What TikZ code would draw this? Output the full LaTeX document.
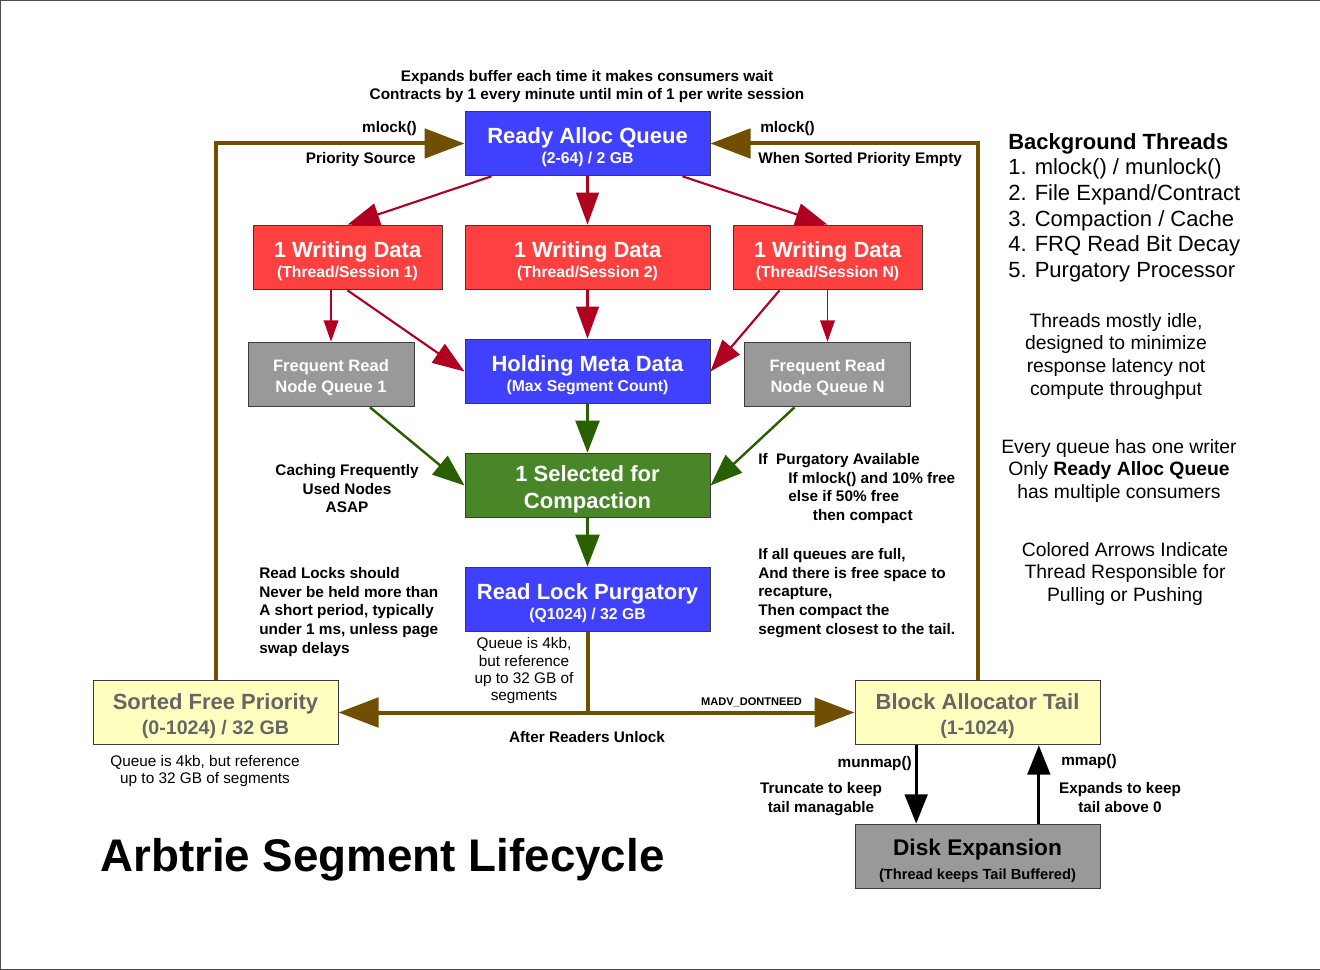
\documentclass[tikz,border=0pt]{standalone}
\usepackage{fontspec}
\setmainfont{Liberation Sans}
\usetikzlibrary{arrows.meta,positioning}

\definecolor{qblue}{RGB}{64,64,255}
\definecolor{qred}{RGB}{255,64,64}
\definecolor{qgray}{RGB}{153,153,153}
\definecolor{qgreen}{RGB}{72,134,40}
\definecolor{qyellow}{RGB}{255,255,192}
\definecolor{qtext}{RGB}{102,102,102}
\definecolor{qedge}{RGB}{60,60,60}
\definecolor{abrown}{RGB}{112,80,0}
\definecolor{ared}{RGB}{176,0,32}
\definecolor{agreen}{RGB}{40,96,0}

\newcommand\boxtitle[1]{{\fontsize{16.5}{17}\selectfont\rule{0pt}{17.5pt}#1}}

\begin{document}
\begin{tikzpicture}[x=0.75pt,y=-0.75pt,node distance=85.5pt,
                    box/.style={draw=qedge,line width=0.75pt,align=center,inner sep=0pt,
                                minimum width=183.75pt,minimum height=48.5pt,text=white,
                                font=\bfseries\fontsize{11.8}{15.6}\selectfont},
                    fbox/.style={box,fill=qgray,minimum width=124.5pt,
                                 font=\bfseries\fontsize{12.4}{15.75}\selectfont},
                    ybox/.style={box,fill=qyellow,text=qtext,
                                 font=\bfseries\fontsize{14.7}{18.75}\selectfont},
                    barrow/.style={draw=abrown,line width=3pt,-{Triangle[length=30pt,width=22pt]}},
                    rarrow/.style={draw=ared,line width=1.6pt,-{Triangle[length=24pt,width=17pt]}},
                    rthin/.style={draw=ared,line width=1pt,-{Triangle[length=16pt,width=11pt]}},
                    garrow/.style={draw=agreen,line width=1.8pt,-{Triangle[length=24pt,width=18pt]}},
                    karrow/.style={draw=black,line width=2.2pt,-{Triangle[length=22pt,width=17pt]}}]
  \tikzstyle{lbl}=[inner sep=0pt,align=left,font=\bfseries\fontsize{11.5}{13.9}\selectfont]
  \tikzstyle{note}=[inner sep=0pt,align=center,font=\fontsize{11.5}{13}\selectfont]
  \tikzstyle{side}=[inner sep=0pt,align=center,font=\fontsize{14.5}{17}\selectfont]

  \useasboundingbox (0,0) rectangle (1320,970);
  \draw[gray!60!black,line width=0.75pt] (1320,0.5) -- (0.5,0.5) -- (0.5,969.5) -- (1320,969.5);

  % queues
  \node[box,fill=qblue]  (RAQ) at (587.5,143.5) {\boxtitle{Ready Alloc Queue}\\(2-64) / 2 GB};
  \node[box,fill=qred]   (W2) [below of=RAQ] {\boxtitle{1 Writing Data}\\(Thread/Session 2)};
  \node[box,fill=qred,minimum width=141.75pt] (W1) [left of=W2,node distance=180pt]
        {\boxtitle{1 Writing Data}\\(Thread/Session 1)};
  \node[box,fill=qred,minimum width=141.75pt] (WN) [right of=W2,node distance=180pt]
        {\boxtitle{1 Writing Data}\\(Thread/Session N)};
  \node[box,fill=qblue]  (HMD) [below of=W2] {\boxtitle{Holding Meta Data}\\(Max Segment Count)};
  \node[fbox]            (F1) at (331,374.5) {\rule{0pt}{13pt}Frequent Read\\Node Queue 1};
  \node[fbox]            (FN) at (827.5,374.5) {\rule{0pt}{13pt}Frequent Read\\Node Queue N};
  \node[box,fill=qgreen,font=\bfseries\fontsize{16.5}{20}\selectfont] (SC) [below of=HMD]
        {\rule{0pt}{18pt}1 Selected for\\Compaction};
  \node[box,fill=qblue]  (RLP) [below of=SC] {\boxtitle{Read Lock Purgatory}\\(Q1024) / 32 GB};
  \node[ybox]            (SFP) at (215.5,712.5) {\boxtitle{Sorted Free Priority}\\(0-1024) / 32 GB};
  \node[ybox]            (BAT) at (977.5,712.5) {\boxtitle{Block Allocator Tail}\\(1-1024)};
  \node[box,fill=qgray,text=black,font=\bfseries\fontsize{11}{17.5}\selectfont] (DE) at (977.5,856.5)
        {{\fontsize{17}{18}\selectfont\rule{0pt}{19pt}Disk Expansion}\\(Thread keeps Tail Buffered)};

  % writer threads
  \path ([xshift=20.25pt]RAQ.south west) edge[rarrow] (W1.north)
        (RAQ) edge[rarrow] (W2)
        ([xshift=-21pt]RAQ.south east) edge[rarrow] (WN.north)
        (W1.south -| F1) edge[rthin] (F1.north)
        (W1.south) edge[rarrow] (HMD.west)
        (W2) edge[rarrow] (HMD)
        ([xshift=35.25pt]WN.south west) edge[rarrow] (HMD.east)
        (WN.south -| FN) edge[rthin] (FN.north);

  % compaction thread
  \path ([xshift=29.25pt]F1.south) edge[garrow] (SC.west)
        (HMD) edge[garrow] (SC)
        ([xshift=-24.75pt]FN.south) edge[garrow] (SC.east)
        (SC) edge[garrow] (RLP);

  % background recycling
  \draw[barrow] (SFP.north) |- (RAQ.west);
  \draw[barrow] (BAT.north) |- (RAQ.east);
  \draw[barrow] (RLP.south) |- (SFP.east);
  \draw[barrow] (RLP.south) |- (BAT.west);
  \draw[karrow] ([xshift=-46pt]BAT.south) -- ([xshift=-46pt]DE.north);
  \draw[karrow] ([xshift=46pt]DE.north) -- ([xshift=46pt]BAT.south);

  % labels
  \node[lbl,align=center,font=\bfseries\fontsize{11.5}{13.5}\selectfont] (top) [anchor=north] at (587,70.5)
        {Expands buffer each time it makes consumers wait\\Contracts by 1 every minute until min of 1 per write session};
  \node[lbl] (ml1) [anchor=north east] at (417,121.5) {mlock()};
  \node[lbl] (ps)  [anchor=north east] at (416,152.5) {Priority Source};
  \node[lbl] (ml2) [anchor=north west] at (760,121.5) {mlock()};
  \node[lbl] (ws)  [anchor=north west] at (758,152.5) {When Sorted Priority Empty};
  \node[lbl,align=center] (cf) [anchor=north] at (347,464.5) {Caching Frequently\\Used Nodes\\ASAP};
  \node[lbl] (pa) [anchor=north west] at (758,453.5)
        {If\ \ Purgatory Available\\\hspace*{22.5pt}If mlock() and 10\% free\\\hspace*{22.5pt}else if 50\% free\\\hspace*{41pt}then compact};
  \node[lbl] (aq) [anchor=north west] at (758,548.5)
        {If all queues are full,\\And there is free space to\\recapture,\\Then compact the\\segment closest to the tail.};
  \node[lbl] (rl) [anchor=north west] at (259,567.5)
        {Read Locks should\\Never be held more than\\A short period, typically\\under 1 ms, unless page\\swap delays};
  \node[note] (qa) [anchor=north] at (524,637.5) {Queue is 4kb,\\but reference\\up to 32 GB of\\segments};
  \node[lbl,font=\bfseries\fontsize{8.3}{10}\selectfont] (md) at (751.5,702) {MADV\_DONTNEED};
  \node[lbl] (ar) at (587,737) {After Readers Unlock};
  \node[note,font=\fontsize{11.5}{12.75}\selectfont] (qb) [anchor=north] at (205,755.5)
        {Queue is 4kb, but reference\\up to 32 GB of segments};
  \node[lbl] (mu) [anchor=north east] at (912,756.5) {munmap()};
  \node[lbl,align=center] (tr) [anchor=north] at (821,782.5) {Truncate to keep\\tail managable};
  \node[lbl] (mm) [anchor=north west] at (1061,754.5) {mmap()};
  \node[lbl,align=center] (ek) [anchor=north] at (1120,782.5) {Expands to keep\\tail above 0};
  \node[inner sep=0pt,font=\bfseries\fontsize{34.3}{40}\selectfont] (ttl) [anchor=north west] at (100,838)
        {Arbtrie Segment Lifecycle};

  % side notes
  \node[inner sep=0pt,align=left,font=\fontsize{16.5}{19.2}\selectfont] (bg) [anchor=north west] at (1008,133)
        {\textbf{Background Threads}\\1. mlock() / munlock()\\2. File Expand/Contract\\3. Compaction / Cache\\4. FRQ Read Bit Decay\\5. Purgatory Processor};
  \node[side] (ti) [anchor=north] at (1116,313)
        {Threads mostly idle,\\designed to minimize\\response latency not\\compute throughput};
  \node[side] (eq) [anchor=north] at (1119,439)
        {Every queue has one writer\\Only \textbf{Ready Alloc Queue}\\has multiple consumers};
  \node[side] (ca) [anchor=north] at (1125,542)
        {Colored Arrows Indicate\\Thread Responsible for\\Pulling or Pushing};
\end{tikzpicture}
\end{document}
